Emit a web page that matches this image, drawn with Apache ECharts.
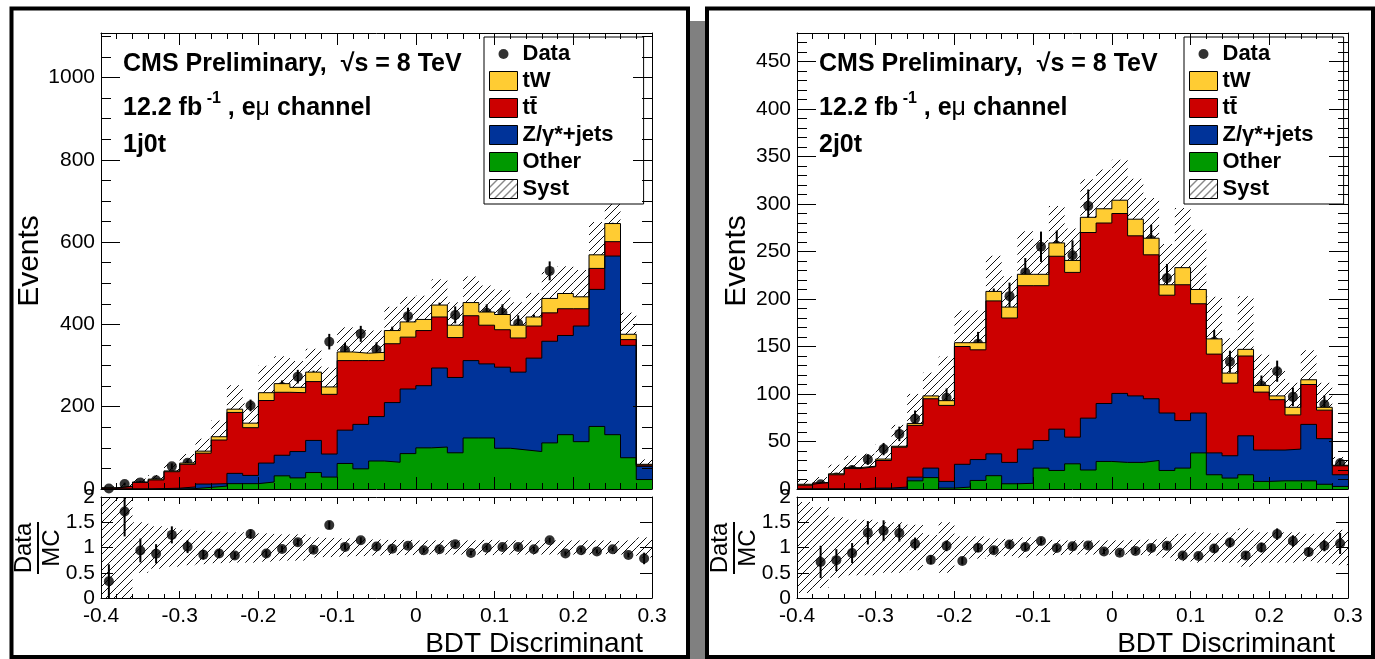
<!DOCTYPE html>
<html>
<head>
<meta charset="utf-8">
<script src="https://cdn.jsdelivr.net/npm/echarts@6/dist/echarts.min.js"></script>
<style>
html, body { margin: 0; padding: 0; background: #fff; }
#main { width: 1375px; height: 659px; }
</style>
</head>
<body>
<div id="main"></div>
<script>
// binning of the BDT output: 35 bins of 0.02 from -0.4 to 0.3
const binLow = -0.4;
const binWidth = 0.02;
const nBins = 35;

// 1j0t region
const data1  = [1, 12, 16, 21, 55, 64, 79, 112, 163, 203, 206, 248, 273, 271, 358, 337, 377, 338, 375, 420,
                390, 432, 423, 403, 428, 428, 402, 404, 530, 418, 442, 525, 622, 320, 47];
const tw1    = [0.5, 0.5, 1, 2, 2, 3, 5, 8, 8, 11, 19, 21, 13, 23, 18, 21, 18, 20, 32, 37,
                27, 29, 30, 32, 32, 37, 31, 22, 35, 37, 29, 33, 44, 13, 2];
const tt1    = [2.5, 6.5, 16, 21, 40, 55, 75, 106, 148, 116, 152, 153, 143, 143, 145, 169, 155, 136, 143, 126,
                134, 124, 97, 109, 94, 91, 83, 78, 69, 65, 42, 51, 35, 14, 3];
const dy1    = [0, 0, 0, 1, 2, 4, 8, 6, 25, 20, 46, 50, 64, 78, 56, 81, 108, 108, 145, 157,
                151, 192, 183, 188, 180, 197, 189, 227, 247, 241, 281, 333, 434, 273, 32];
const other1 = [0, 0, 0, 0, 0, 1, 4, 7, 13, 13, 17, 32, 27, 40, 29, 62, 49, 68, 65, 86,
                100, 102, 88, 124, 124, 99, 95, 91, 112, 132, 115, 152, 132, 76, 23];
const syst1  = [1.2, 1.0, 0.5, 0.42, 0.38, 0.35, 0.33, 0.31, 0.3, 0.3, 0.28, 0.26, 0.26, 0.2, 0.19, 0.18, 0.17, 0.16, 0.15, 0.15,
                0.14, 0.14, 0.14, 0.14, 0.15, 0.14, 0.14, 0.14, 0.14, 0.14, 0.14, 0.14, 0.13, 0.14, 0.2];

// 2j0t region
const data2  = [null, 5, 12, 20, 31, 42, 58, 74, 74, 96, 113, 153, 197, 203, 228, 255, 256, 246, 298, 272,
                272, 265, 262, 222, 196, 175, 155, 134, 124, 109, 124, 97, 105, 89, 27];
const tw2    = [1, 0.5, 1, 1, 0.5, 1.5, 1, 2, 3, 5, 4, 7.5, 10, 11.5, 12, 12, 14, 12.6, 16, 15,
                14, 17.5, 17.5, 11, 18, 15, 16, 10.5, 7, 7, 4, 8, 5, 3, 0.6];
const tt2    = [4, 6.5, 15, 21.5, 22.5, 29, 42, 54.5, 73, 80, 124, 115.5, 161, 152, 172, 163, 182, 173.4, 195.4, 190,
                189.4, 168.5, 151.5, 124, 143, 115, 104, 76.5, 84, 61, 53, 36, 42, 30, 9.4];
const dy2    = [0, 0, 0, 0, 1, 1, 2, 3.9, 10, 7, 24, 22, 23, 22.5, 36, 29, 43.5, 28.1, 54.6, 61,
                72.6, 70, 65, 60.5, 50, 42, 23, 23.5, 41, 33, 32.4, 33.4, 59.4, 48, 12.3];
const other2 = [0, 0, 0, 0, 0, 0, 0, 8.6, 12, 1, 2, 9, 14, 5.5, 6, 22, 19.5, 26.5, 20, 29,
                28, 28, 30, 19.5, 22, 38, 15, 11.5, 15, 8, 8.6, 8.6, 8.6, 5, 2.7];
const syst2  = [0.9, 0.8, 0.6, 0.55, 0.55, 0.5, 0.5, 0.45, 0.25, 0.5, 0.22, 0.22, 0.18, 0.17, 0.2, 0.16, 0.15, 0.14, 0.14, 0.14,
                0.14, 0.15, 0.16, 0.2, 0.27, 0.3, 0.28, 0.3, 0.38, 0.3, 0.3, 0.3, 0.27, 0.3, 0.35];

const FONT = 'Liberation Sans';
const C_TW = '#ffcc33', C_TT = '#cc0000', C_DY = '#003399', C_OT = '#009900';

// diagonal hatch used for the systematic band
const hatchCanvas = document.createElement('canvas');
hatchCanvas.width = 8;
hatchCanvas.height = 8;
(function () {
    const ctx = hatchCanvas.getContext('2d');
    ctx.strokeStyle = '#111';
    ctx.lineWidth = 1;
    ctx.beginPath();
    ctx.moveTo(0, 8); ctx.lineTo(8, 0);
    ctx.moveTo(-1, 1); ctx.lineTo(1, -1);
    ctx.moveTo(7, 9); ctx.lineTo(9, 7);
    ctx.stroke();
})();
const hatch = { image: hatchCanvas, repeat: 'repeat' };

const chart = echarts.init(document.getElementById('main'));

// grid layout: 0 = left main, 1 = left ratio, 2 = right main, 3 = right ratio
const plotLeft = [101, 797];
const plotWidth = 551;
const grids = [];
[0, 1].forEach(p => {
    grids.push({ left: plotLeft[p], top: 33, width: plotWidth, height: 456 });
    grids.push({ left: plotLeft[p], top: 497, width: plotWidth, height: 101 });
});

const labelStyle = { color: '#000', fontFamily: FONT, fontSize: 21, formatter: v => String(+v.toFixed(2)) };

// four x and four y axes per grid: major/minor ticks on both sides
function makeX(g, showLabels, majorLen, minorLen) {
    const base = {
        gridIndex: g, type: 'value', min: -0.4, max: 0.3, z: 10,
        splitLine: { show: false }, axisLabel: { show: false }
    };
    const out = [];
    ['bottom', 'top'].forEach(pos => {
        out.push(Object.assign({}, base, {
            position: pos, interval: 0.1,
            axisLine: { show: true, onZero: false, lineStyle: { color: '#000', width: 1 } },
            axisTick: { inside: true, length: majorLen, lineStyle: { color: '#000' } },
            axisLabel: Object.assign({ show: showLabels && pos === 'bottom', margin: 8 }, labelStyle)
        }));
        out.push(Object.assign({}, base, {
            position: pos, interval: 0.02,
            axisLine: { show: false, onZero: false },
            axisTick: { inside: true, length: minorLen, lineStyle: { color: '#000' } }
        }));
    });
    return out;
}

function makeY(g, max, major, minor, majorLen, minorLen, name) {
    const base = {
        gridIndex: g, type: 'value', min: 0, max: max, z: 10,
        splitLine: { show: false }, axisLabel: { show: false }
    };
    const out = [];
    ['left', 'right'].forEach(pos => {
        const ax = Object.assign({}, base, {
            position: pos, interval: major,
            axisLine: { show: true, onZero: false, lineStyle: { color: '#000', width: 1 } },
            axisTick: { inside: true, length: majorLen, lineStyle: { color: '#000' } },
            axisLabel: Object.assign({ show: pos === 'left', margin: 6, showMaxLabel: max % major === 0 }, labelStyle)
        });
        if (pos === 'left' && name) {
            ax.name = name;
            ax.nameLocation = 'middle';
            ax.nameGap = 38;
            ax.nameTextStyle = { color: '#000', fontFamily: FONT, fontSize: 30 };
        }
        out.push(ax);
        if (minor) {
            out.push(Object.assign({}, base, {
                position: pos, interval: minor,
                axisLine: { show: false, onZero: false },
                axisTick: { inside: true, length: minorLen, lineStyle: { color: '#000' } }
            }));
        } else {
            out.push(Object.assign({}, base, {
                position: pos, interval: major,
                axisLine: { show: false, onZero: false }, axisTick: { show: false }
            }));
        }
    });
    return out;
}

const xAxes = [], yAxes = [];
xAxes.push(...makeX(0, false, 12, 6), ...makeX(1, true, 7, 4), ...makeX(2, false, 12, 6), ...makeX(3, true, 7, 4));
yAxes.push(...makeY(0, 1108, 200, 50, 19, 10, 'Events'));
yAxes.push(...makeY(1, 2, 0.5, 0, 12, 0, ''));
yAxes.push(...makeY(2, 480, 50, 10, 19, 10, 'Events'));
yAxes.push(...makeY(3, 2, 0.5, 0, 12, 0, ''));

function cumulate(parts) {
    const levels = [];
    let run = new Array(nBins).fill(0);
    parts.forEach(p => {
        run = run.map((v, i) => v + p[i]);
        levels.push(run);
    });
    return levels;
}

function stepPoints(level) {
    const pts = level.map((v, i) => [binLow + i * binWidth, v]);
    pts.push([binLow + nBins * binWidth, level[nBins - 1]]);
    return pts;
}

function rectItem(params, api) {
    const a = api.coord([api.value(0), api.value(3)]);
    const b = api.coord([api.value(1), api.value(2)]);
    return {
        type: 'rect',
        shape: { x: a[0], y: a[1], width: b[0] - a[0], height: b[1] - a[1] },
        style: { fill: hatch }
    };
}

function errItem(params, api) {
    const a = api.coord([api.value(0), api.value(2)]);
    const b = api.coord([api.value(0), api.value(1)]);
    return {
        type: 'line',
        shape: { x1: a[0], y1: a[1], x2: b[0], y2: b[1] },
        style: { stroke: '#000', lineWidth: 2 }
    };
}

const clamp = (v, lo, hi) => Math.min(hi, Math.max(lo, v));

function panelSeries(p, d) {
    const gm = 2 * p, gr = 2 * p + 1;
    const xm = 4 * gm, ym = 4 * gm, xr = 4 * gr, yr = 4 * gr;
    const lv = cumulate([d.other, d.dy, d.tt, d.tw]);
    const total = lv[3];
    const names = ['Other', 'Z/γ*+jets', 'tt̄', 'tW'];
    const colors = [C_OT, C_DY, C_TT, C_TW];
    const out = [];
    for (let k = 3; k >= 0; k--) {
        out.push({
            name: names[k], type: 'line', xAxisIndex: xm, yAxisIndex: ym,
            step: 'end', symbol: 'none', silent: true, data: stepPoints(lv[k]),
            lineStyle: { color: '#000', width: 1 },
            itemStyle: { color: colors[k] },
            areaStyle: { color: colors[k], opacity: 1 }
        });
    }
    const edge = i => binLow + i * binWidth;
    const centre = i => binLow + (i + 0.5) * binWidth;
    out.push({
        name: 'Syst', type: 'custom', xAxisIndex: xm, yAxisIndex: ym, silent: true,
        renderItem: rectItem,
        data: total.map((t, i) => [edge(i), edge(i + 1), Math.max(0, t * (1 - d.syst[i])), t * (1 + d.syst[i])])
    });
    const idx = d.data.map((v, i) => i).filter(i => d.data[i] != null);
    out.push({
        type: 'custom', xAxisIndex: xm, yAxisIndex: ym, silent: true, renderItem: errItem,
        data: idx.map(i => [centre(i), d.data[i] - Math.sqrt(d.data[i]), d.data[i] + Math.sqrt(d.data[i])])
    });
    out.push({
        name: 'Data', type: 'scatter', xAxisIndex: xm, yAxisIndex: ym, silent: true,
        symbol: 'circle', symbolSize: 10, itemStyle: { color: '#000' },
        data: idx.map(i => [centre(i), d.data[i]])
    });
    // ratio pad
    out.push({
        type: 'custom', xAxisIndex: xr, yAxisIndex: yr, silent: true, renderItem: rectItem,
        data: d.syst.map((s, i) => [edge(i), edge(i + 1), clamp(1 - s, 0, 2), clamp(1 + s, 0, 2)])
    });
    out.push({
        type: 'custom', xAxisIndex: xr, yAxisIndex: yr, silent: true, renderItem: errItem,
        data: idx.map(i => {
            const r = d.data[i] / total[i], e = Math.sqrt(d.data[i]) / total[i];
            return [centre(i), clamp(r - e, 0, 2), clamp(r + e, 0, 2)];
        })
    });
    out.push({
        type: 'scatter', xAxisIndex: xr, yAxisIndex: yr, silent: true,
        symbol: 'circle', symbolSize: 10, itemStyle: { color: '#000' },
        data: idx.map(i => [centre(i), d.data[i] / total[i]])
    });
    return out;
}

const dataIcon = 'path://M0,0M28,19M19,9.5A5,5,0,1,1,9,9.5A5,5,0,1,1,19,9.5Z';
function legendAt(left) {
    return {
        left: left, top: 37, orient: 'vertical', selectedMode: false,
        itemWidth: 28, itemHeight: 19, itemGap: 5,
        backgroundColor: '#fff', borderColor: '#000', borderWidth: 1, borderRadius: 0,
        padding: [6, 30, 4, 5],
        textStyle: { color: '#000', fontFamily: FONT, fontWeight: 'bold', fontSize: 22, lineHeight: 19 },
        data: [
            { name: 'Data', icon: dataIcon, itemStyle: { color: '#000', borderWidth: 0 } },
            { name: 'tW', icon: 'rect', itemStyle: { color: C_TW, borderColor: '#000', borderWidth: 1 } },
            { name: 'tt̄', icon: 'rect', itemStyle: { color: C_TT, borderColor: '#000', borderWidth: 1 } },
            { name: 'Z/γ*+jets', icon: 'rect', itemStyle: { color: C_DY, borderColor: '#000', borderWidth: 1 } },
            { name: 'Other', icon: 'rect', itemStyle: { color: C_OT, borderColor: '#000', borderWidth: 1 } },
            { name: 'Syst', icon: 'rect', itemStyle: { color: hatch, borderColor: '#000', borderWidth: 1 } }
        ]
    };
}

const boldText = { color: '#000', fontFamily: FONT, fontWeight: 'bold', fontSize: 25 };
function panelTitles(x, tag) {
    return [
        { text: 'CMS Preliminary,  √s = 8 TeV', left: x, top: 52, padding: 0, textStyle: boldText },
        {
            text: '{b|12.2 fb}{sup| -1}{b| , e}{mu|μ}{b| channel}', left: x, top: 91, padding: 0,
            textStyle: Object.assign({}, boldText, {
                rich: {
                    b: Object.assign({}, boldText, { lineHeight: 30, verticalAlign: 'bottom' }),
                    sup: Object.assign({}, boldText, { fontSize: 16, lineHeight: 16, verticalAlign: 'top' }),
                    mu: Object.assign({}, boldText, { fontWeight: 'normal', lineHeight: 30, verticalAlign: 'bottom' })
                }
            })
        },
        { text: tag, left: x, top: 133, padding: 0, textStyle: boldText }
    ];
}

function ratioTitle(x) {
    return {
        type: 'group', x: x, y: 548, rotation: Math.PI / 2, silent: true,
        children: [
            { type: 'text', x: 0, y: -2, style: { text: 'Data', fontFamily: FONT, fontSize: 24, fill: '#000', align: 'center', verticalAlign: 'bottom' } },
            { type: 'line', shape: { x1: -26, y1: 0, x2: 26, y2: 0 }, style: { stroke: '#000', lineWidth: 2 } },
            { type: 'text', x: 0, y: 2, style: { text: 'MC', fontFamily: FONT, fontSize: 24, fill: '#000', align: 'center', verticalAlign: 'top' } }
        ]
    };
}

function xTitle(x) {
    return {
        type: 'text', x: x, y: 644, silent: true,
        style: { text: 'BDT Discriminant', fontFamily: FONT, fontSize: 28, fill: '#000', align: 'right', verticalAlign: 'middle' }
    };
}

const option = {
    animation: false,
    backgroundColor: '#fff',
    textStyle: { fontFamily: FONT },
    title: [...panelTitles(123, '1j0t'), ...panelTitles(819, '2j0t')],
    legend: [legendAt(484), legendAt(1184)],
    grid: grids,
    xAxis: xAxes,
    yAxis: yAxes,
    series: [
        ...panelSeries(0, { data: data1, tw: tw1, tt: tt1, dy: dy1, other: other1, syst: syst1 }),
        ...panelSeries(1, { data: data2, tw: tw2, tt: tt2, dy: dy2, other: other2, syst: syst2 })
    ],
    graphic: [
        { type: 'rect', silent: true, shape: { x: 11.5, y: 8.5, width: 676.5, height: 648.5 }, style: { fill: 'none', stroke: '#000', lineWidth: 4 } },
        { type: 'rect', silent: true, shape: { x: 690, y: 21, width: 15, height: 640 }, style: { fill: '#808080' } },
        { type: 'rect', silent: true, shape: { x: 707, y: 8.5, width: 666, height: 648.5 }, style: { fill: 'none', stroke: '#000', lineWidth: 4 } },
        ratioTitle(38),
        ratioTitle(734),
        xTitle(643),
        xTitle(1335)
    ]
};

chart.setOption(option);
</script>
</body>
</html>
